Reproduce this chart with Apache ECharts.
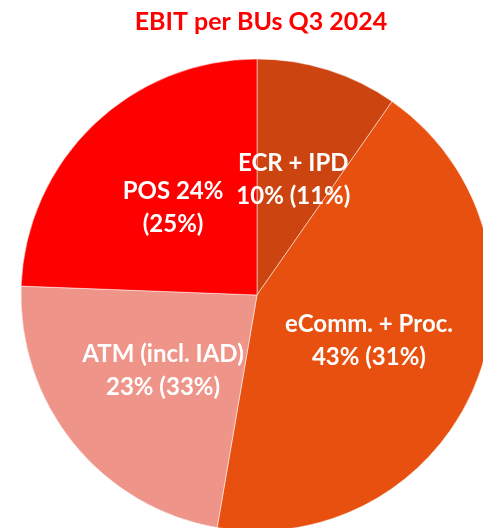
<!DOCTYPE html>
<html>
<head>
<meta charset="utf-8">
<script src="https://cdn.jsdelivr.net/npm/echarts@6/dist/echarts.min.js"></script>
<style>
  html, body { margin: 0; padding: 0; background: #fff; }
  #main { width: 483px; height: 528px; }
</style>
</head>
<body>
<div id="main"></div>
<script>
// slices, clockwise from 12 o'clock
const units = ['ECR + IPD', 'eComm. + Proc.', 'ATM (incl. IAD)', 'POS'];
const shares = [9.7, 43.0, 22.9, 24.4]; // EBIT share Q3 2024, % (slice sizes)
const priorShares = [11, 31, 33, 25];   // value in brackets, %
const colors = ['#CC4410', '#E8500F', '#EE9489', '#FF0000'];

const chart = echarts.init(document.getElementById('main'));

const option = {
  animation: false,
  title: {
    text: 'EBIT per BUs Q3 2024',
    left: 256,
    textAlign: 'center',
    top: 4,
    textStyle: {
      color: '#FF0000',
      fontFamily: 'Lato',
      fontWeight: 'bold',
      fontSize: 25
    }
  },
  series: [
    {
      type: 'pie',
      center: [257, 295],
      radius: 236,
      startAngle: 90,
      clockwise: true,
      data: units.map((n, i) => ({
        name: n,
        value: shares[i],
        itemStyle: { color: colors[i] }
      })),
      itemStyle: {
        borderColor: '#fff',
        borderWidth: 0.5
      },
      label: {
        position: 'inside',
        color: '#fff',
        fontFamily: 'Lato',
        fontWeight: 'bold',
        fontSize: 24,
        lineHeight: 33,
        formatter: function (p) {
          const i = p.dataIndex;
          const s = Math.round(shares[i]);
          if (units[i] === 'POS') {
            return units[i] + ' ' + s + '%\n(' + priorShares[i] + '%)';
          }
          return units[i] + '\n' + s + '% (' + priorShares[i] + '%)';
        }
      },
      labelLine: { show: false },
      emphasis: { disabled: true }
    }
  ]
};

chart.setOption(option);
</script>
</body>
</html>
